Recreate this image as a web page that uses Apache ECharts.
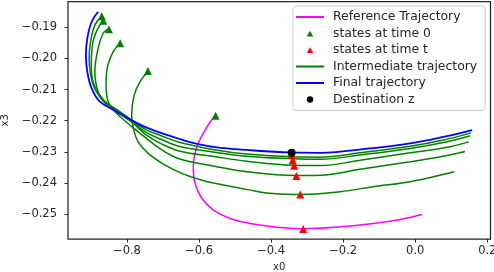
<!DOCTYPE html>
<html><head><meta charset="utf-8">
<script src="https://cdn.jsdelivr.net/npm/echarts@6/dist/echarts.min.js"></script>
<style>html,body{margin:0;padding:0;background:#fff}#c{width:494px;height:272px}</style>
</head><body><div id="c"></div>
<script>
const xTicks = [-0.8, -0.6, -0.4, -0.2, 0.0, 0.2];
const yTicks = [-0.25, -0.24, -0.23, -0.22, -0.21, -0.20, -0.19];

const refX = [-0.557, -0.583, -0.606, -0.616, -0.611, -0.592, -0.560, -0.514, -0.449, -0.375, -0.310, -0.208, -0.116, -0.042, 0.019];
const refY = [-0.2185, -0.2230, -0.2284, -0.2348, -0.2401, -0.2450, -0.2487, -0.2514, -0.2532, -0.2543, -0.2547, -0.2541, -0.2530, -0.2517, -0.2501];

const start0X = [-0.870, -0.866, -0.850, -0.819, -0.742, -0.554];
const start0Y = [-0.1864, -0.1879, -0.1906, -0.1951, -0.2040, -0.2184];

const stateTX = [-0.343, -0.340, -0.336, -0.330, -0.319, -0.311];
const stateTY = [-0.2310, -0.2327, -0.2345, -0.2378, -0.2437, -0.2548];

const inter1X = [-0.870, -0.889, -0.901, -0.905, -0.901, -0.890, -0.867, -0.828, -0.792, -0.750, -0.703, -0.653, -0.558, -0.468, -0.339, -0.264, -0.153, -0.014, 0.078, 0.155];
const inter1Y = [-0.1864, -0.1893, -0.1946, -0.1999, -0.2050, -0.2095, -0.2135, -0.2166, -0.2193, -0.2227, -0.2249, -0.2270, -0.2293, -0.2307, -0.2316, -0.2317, -0.2303, -0.2282, -0.2262, -0.2239];

const inter2X = [-0.866, -0.883, -0.896, -0.899, -0.892, -0.864, -0.825, -0.792, -0.750, -0.703, -0.653, -0.558, -0.468, -0.339, -0.264, -0.153, -0.014, 0.078, 0.153];
const inter2Y = [-0.1879, -0.1909, -0.1957, -0.2021, -0.2082, -0.2134, -0.2167, -0.2195, -0.2235, -0.2261, -0.2283, -0.2301, -0.2314, -0.2322, -0.2324, -0.2310, -0.2289, -0.2270, -0.2248];

const inter3X = [-0.850, -0.866, -0.882, -0.889, -0.880, -0.856, -0.819, -0.783, -0.750, -0.703, -0.653, -0.558, -0.468, -0.336, -0.264, -0.153, -0.014, 0.078, 0.149];
const inter3Y = [-0.1905, -0.1919, -0.1978, -0.2043, -0.2107, -0.2150, -0.2179, -0.2208, -0.2243, -0.2275, -0.2298, -0.2315, -0.2330, -0.2343, -0.2344, -0.2327, -0.2303, -0.2288, -0.2268];

const inter4X = [-0.819, -0.838, -0.855, -0.858, -0.852, -0.833, -0.806, -0.778, -0.750, -0.703, -0.653, -0.558, -0.468, -0.331, -0.264, -0.153, -0.014, 0.078, 0.138];
const inter4Y = [-0.1951, -0.1978, -0.2032, -0.2085, -0.2139, -0.2171, -0.2200, -0.2227, -0.2253, -0.2294, -0.2323, -0.2346, -0.2364, -0.2376, -0.2375, -0.2356, -0.2332, -0.2314, -0.2299];

const inter5X = [-0.741, -0.764, -0.780, -0.787, -0.782, -0.769, -0.741, -0.694, -0.648, -0.592, -0.556, -0.458, -0.394, -0.319, -0.208, -0.117, -0.014, 0.108];
const inter5Y = [-0.2040, -0.2075, -0.2118, -0.2182, -0.2225, -0.2268, -0.2305, -0.2343, -0.2369, -0.2391, -0.2401, -0.2423, -0.2434, -0.2437, -0.2428, -0.2412, -0.2396, -0.2364];

const finalX = [-0.880, -0.898, -0.910, -0.914, -0.910, -0.898, -0.875, -0.839, -0.796, -0.750, -0.704, -0.653, -0.611, -0.556, -0.468, -0.344, -0.264, -0.125, -0.014, 0.078, 0.158];
const finalY = [-0.1850, -0.1882, -0.1935, -0.1989, -0.2043, -0.2096, -0.2139, -0.2164, -0.2193, -0.2220, -0.2240, -0.2259, -0.2273, -0.2285, -0.2294, -0.2302, -0.2303, -0.2289, -0.2273, -0.2252, -0.2230];

const destX = [-0.343];
const destY = [-0.2303];

const zip = (xs, ys) => xs.map((x, i) => [x, ys[i]]);
const fmt = d => v => (v < 0 ? '\u2212' : '') + Math.abs(v).toFixed(d);
const axisCol = '#262626';
const font = 'DejaVu Sans';

const interSets = [[inter1X, inter1Y], [inter2X, inter2Y], [inter3X, inter3Y], [inter4X, inter4Y], [inter5X, inter5Y]];

const series = [
  { name: 'Reference Trajectory', type: 'line', data: zip(refX, refY), showSymbol: false, symbol: 'none', smooth: 0.4,
    lineStyle: { color: '#ff00ff', width: 1.5 }, itemStyle: { color: '#ff00ff' }, z: 2 },
  { name: 'states at time 0', type: 'scatter', data: zip(start0X, start0Y), symbol: 'triangle', symbolSize: 8,
    itemStyle: { color: '#008000', opacity: 1 }, z: 5 },
  { name: 'states at time t', type: 'scatter', data: zip(stateTX, stateTY), symbol: 'triangle', symbolSize: 8,
    itemStyle: { color: '#ff0000', opacity: 1 }, z: 5 }
];
interSets.forEach(([xs, ys]) => {
  series.push({ name: 'Intermediate trajectory', type: 'line', data: zip(xs, ys), showSymbol: false, symbol: 'none', smooth: 0.4,
    lineStyle: { color: '#008000', width: 1.5 }, itemStyle: { color: '#008000' }, z: 3 });
});
series.push({ name: 'Final trajectory', type: 'line', data: zip(finalX, finalY), showSymbol: false, symbol: 'none', smooth: 0.4,
  lineStyle: { color: '#0000ff', width: 1.8 }, itemStyle: { color: '#0000ff' }, z: 4 });
series.push({ name: 'Destination z', type: 'scatter', data: zip(destX, destY), symbol: 'circle', symbolSize: 8,
  itemStyle: { color: '#000000', opacity: 1 }, z: 6 });

const hideSym = { opacity: 0 };
const triIcon = 'path://M0,0 M28,7 M10.8,6.6 L17.2,6.6 L14,0.8 Z';
const dotIcon = 'path://M0,0 M28,7 M17.2,3.5 A3.2,3.2 0 1 1 10.8,3.5 A3.2,3.2 0 1 1 17.2,3.5 Z';
const chart = echarts.init(document.getElementById('c'), null, { renderer: 'canvas' });
chart.setOption({
  animation: false,
  backgroundColor: '#ffffff',
  grid: { left: 68, right: 3.5, top: 1.5, bottom: 33, containLabel: false, outerBoundsMode: 'none',
    show: true, borderColor: axisCol, borderWidth: 1.25, backgroundColor: 'transparent' },
  xAxis: {
    type: 'value', min: -0.9636, max: 0.2089,
    name: 'x0', nameLocation: 'middle', nameGap: 23,
    nameTextStyle: { fontFamily: font, fontSize: 10, color: axisCol },
    axisLine: { show: false, onZero: false },
    splitLine: { show: false },
    axisTick: { show: true, inside: false, length: 3.5, lineStyle: { color: axisCol, width: 1 }, customValues: xTicks },
    axisLabel: { customValues: xTicks, formatter: fmt(1), fontFamily: font, fontSize: 11.5, color: axisCol, margin: 6 }
  },
  yAxis: {
    type: 'value', min: -0.2580, max: -0.1817,
    name: 'x3', nameLocation: 'middle', nameGap: 57, nameRotate: 90,
    nameTextStyle: { fontFamily: font, fontSize: 10, color: axisCol },
    axisLine: { show: false, onZero: false },
    splitLine: { show: false },
    axisTick: { show: true, inside: false, length: 3.5, lineStyle: { color: axisCol, width: 1 }, customValues: yTicks },
    axisLabel: { customValues: yTicks, formatter: fmt(2), fontFamily: font, fontSize: 11.5, color: axisCol, margin: 11 }
  },
  legend: {
    orient: 'vertical', left: 293, top: 6,
    data: [
      { name: 'Reference Trajectory', itemStyle: hideSym },
      { name: 'states at time 0', icon: triIcon, itemStyle: { opacity: 1 } },
      { name: 'states at time t', icon: triIcon, itemStyle: { opacity: 1 } },
      { name: 'Intermediate trajectory', itemStyle: hideSym },
      { name: 'Final trajectory', itemStyle: hideSym },
      { name: 'Destination z', icon: dotIcon, itemStyle: { opacity: 1 } }
    ],
    itemWidth: 28, itemHeight: 7, itemGap: 2.5,
    padding: [4, 8, 4, 2],
    backgroundColor: 'rgba(255,255,255,0.8)', borderColor: '#cccccc', borderWidth: 1, borderRadius: 3,
    textStyle: { fontFamily: font, fontSize: 12.4, lineHeight: 14, color: axisCol, padding: [0, 0, 0, 4] }
  },
  series: series
});
</script>
</body></html>
